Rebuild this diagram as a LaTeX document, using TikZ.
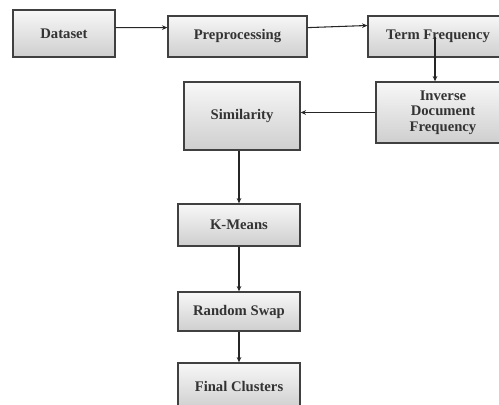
\documentclass[tikz,border=0pt]{standalone}
\usepackage{fontspec}
\setmainfont{Liberation Serif}
\usetikzlibrary{arrows.meta,calc}
\begin{document}
\begin{tikzpicture}[x=0.75pt,y=-0.75pt,
  box/.style={draw=black!75, line width=1pt, top color=gray!6, bottom color=gray!38,
    inner sep=2pt, align=center, text=black!80,
    font=\fontsize{11}{11.5}\selectfont\bfseries},
  conn/.style={draw=black!85, line width=0.8pt, -{Stealth[length=4pt,width=3.5pt]}}]
\useasboundingbox (0,0) rectangle (499,404);
\clip (0,0) rectangle (499,404);
\node[box, minimum width=76.5pt, minimum height=35.25pt] (ds) at (64,33.5) {Dataset};
\node[box, minimum width=104.25pt, minimum height=30.75pt] (pp) at (237.5,36.5) {Preprocessing};
\node[box, minimum width=105pt, minimum height=30.75pt] (tf) at (438,36.5) {Term Frequency};
\node[box, minimum width=100.5pt, minimum height=45.75pt] (idf) at (443,112.5) {Inverse\\Document\\Frequency};
\node[box, minimum width=87pt, minimum height=51pt] (sim) at (242,116) {Similarity};
\node[box, minimum width=91.5pt, minimum height=31.5pt] (km) at (239,225) {K-Means};
\node[box, minimum width=91.5pt, minimum height=29.25pt] (rs) at (239,311.5) {Random Swap};
\node[box, minimum width=91.5pt, minimum height=34.5pt] (fc) at (239,386) {Final Clusters};
\coordinate (tfs) at ($(tf.center)+(-3,0)$);
\draw[conn] ($(ds.north east)!0.38!(ds.south east)$) -- ($(pp.north west)!0.29!(pp.south west)$);
\draw[conn] ($(pp.north east)!0.29!(pp.south east)$) -- ($(tf.north west)!0.24!(tf.south west)$);
\draw[conn] (tfs) -- (tfs |- idf.north);
\draw[conn] (idf.west) -- (idf.west -| sim.east);
\draw[conn] (km.north |- sim.south) -- (km.north);
\draw[conn] (km.south) -- (rs.north);
\draw[conn] (rs.south) -- (fc.north);
\end{tikzpicture}
\end{document}
